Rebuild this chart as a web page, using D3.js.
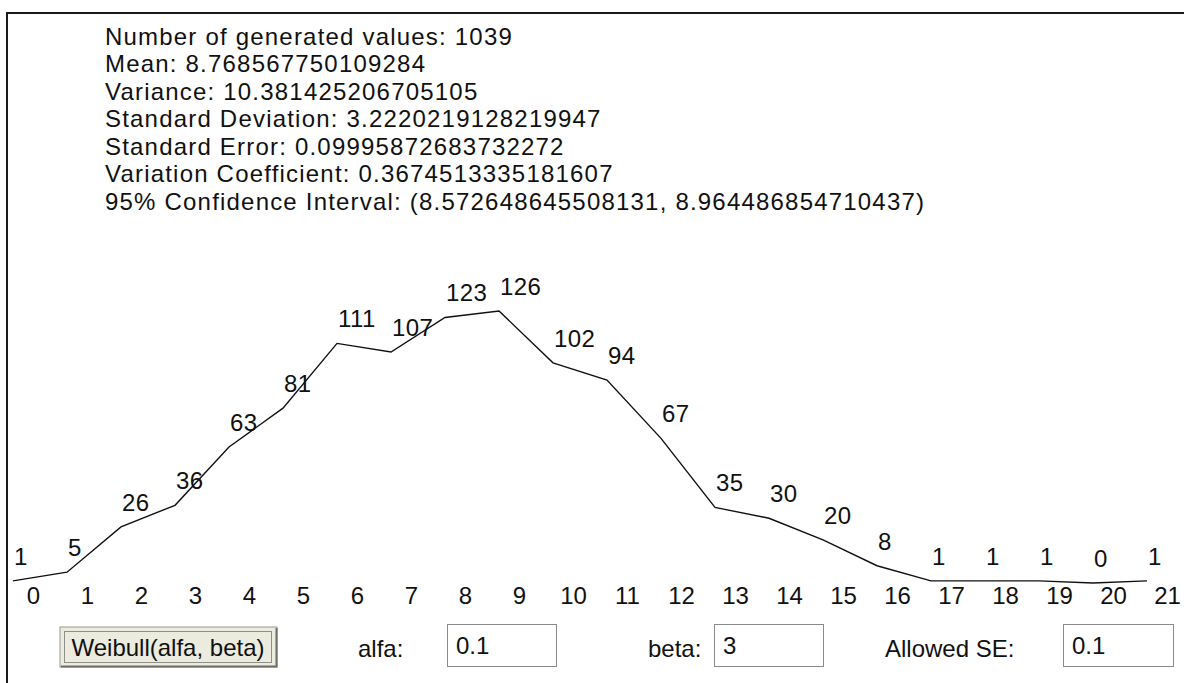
<!DOCTYPE html>
<html><head><meta charset="utf-8">
<script src="https://cdn.jsdelivr.net/npm/d3@7"></script>
<style>
html,body{margin:0;padding:0;background:#fff;}
svg{display:block;font-family:"Liberation Sans",Arial,sans-serif;}
</style>
</head><body>
<svg id="c" width="1184" height="683"></svg>
<script>
// ---- data ----
const categories = [0,1,2,3,4,5,6,7,8,9,10,11,12,13,14,15,16,17,18,19,20,21];
const counts = [1,5,26,36,63,81,111,107,123,126,102,94,67,35,30,20,8,1,1,1,0,1];
const statsLines = [
  "Number of generated values: 1039",
  "Mean: 8.768567750109284",
  "Variance: 10.381425206705105",
  "Standard Deviation: 3.2220219128219947",
  "Standard Error: 0.09995872683732272",
  "Variation Coefficient: 0.3674513335181607",
  "95% Confidence Interval: (8.572648645508131, 8.964486854710437)"
];
const buttonLabel = "Weibull(alfa, beta)";
const paramLabels = ["alfa:", "beta:", "Allowed SE:"];
const paramValues = ["0.1", "3", "0.1"];

// ---- drawing ----
const svg = d3.select("#c");
const W = 1184, H = 683;
svg.append("rect").attr("width", W).attr("height", H).attr("fill", "#fff");

// panel frame (top and left edges)
svg.append("line").attr("x1", 6).attr("x2", W).attr("y1", 13).attr("y2", 13)
  .attr("stroke", "#1a1a1a").attr("stroke-width", 2);
svg.append("line").attr("x1", 7).attr("x2", 7).attr("y1", 12).attr("y2", H)
  .attr("stroke", "#1a1a1a").attr("stroke-width", 2);

// statistics text block
const stats = svg.append("g").attr("font-size", 24).attr("fill", "#111")
  .attr("letter-spacing", "1.2px");
stats.selectAll("text").data(statsLines).join("text")
  .attr("x", 105)
  .attr("y", (d, i) => 44.5 + i * 27.5)
  .text(d => d);

// scales
const x = d3.scaleLinear().domain([0, 21]).range([13, 1147]);
const y = d3.scaleLinear().domain([0, 126]).range([583, 311]);

// x axis labels (offset to the right of each vertex, as in the reference)
const axisG = svg.append("g").attr("transform", "translate(20,583)")
  .call(d3.axisBottom(x).tickValues(categories).tickSize(0).tickPadding(3.5)
        .tickFormat(d3.format("d")));
axisG.select(".domain").remove();
axisG.selectAll("text").attr("font-size", 24).attr("fill", "#111")
  .attr("font-family", "Liberation Sans, Arial, sans-serif");

// frequency polygon
const line = d3.line().x((d, i) => x(categories[i])).y(d => y(d));
svg.append("path").datum(counts)
  .attr("d", line).attr("fill", "none")
  .attr("stroke", "#111").attr("stroke-width", 1.4);

// value labels
svg.append("g").attr("font-size", 24).attr("fill", "#111").attr("letter-spacing", "0.4px")
  .selectAll("text").data(counts).join("text")
  .attr("x", (d, i) => x(categories[i]) + 1)
  .attr("y", d => y(d) - 16)
  .text(d => d);

// ---- controls row ----
const ctl = svg.append("g").attr("font-size", 24).attr("fill", "#111");
// button
const btn = ctl.append("g");
btn.append("rect").attr("x", 60).attr("y", 627).attr("width", 217).attr("height", 40)
  .attr("fill", "#ecebdf").attr("stroke", "#9a9a8c").attr("stroke-width", 1);
btn.append("path").attr("d", "M61,666.5H276.5V628").attr("fill", "none")
  .attr("stroke", "#6e6e64").attr("stroke-width", 2);
btn.append("rect").attr("x", 64.5).attr("y", 631.5).attr("width", 207).attr("height", 31)
  .attr("fill", "none").attr("stroke", "#333").attr("stroke-width", 1)
  .attr("stroke-dasharray", "1,1");
btn.append("text").attr("x", 168).attr("y", 656).attr("text-anchor", "middle")
  .text(buttonLabel);

// parameter labels and inputs
const labelX = [358, 648, 885];
const boxX = [447, 714, 1063];
const boxW = [109, 109, 110];
ctl.selectAll("text.lbl").data(paramLabels).join("text").attr("class", "lbl")
  .attr("x", (d, i) => labelX[i]).attr("y", 657).text(d => d);
ctl.selectAll("rect.box").data(paramValues).join("rect").attr("class", "box")
  .attr("x", (d, i) => boxX[i] + 0.5).attr("y", 624.5)
  .attr("width", (d, i) => boxW[i]).attr("height", 42)
  .attr("fill", "#fff").attr("stroke", "#8a8a8a").attr("stroke-width", 1);
ctl.selectAll("text.val").data(paramValues).join("text").attr("class", "val")
  .attr("x", (d, i) => boxX[i] + 9).attr("y", 654).text(d => d);
</script>
</body></html>
